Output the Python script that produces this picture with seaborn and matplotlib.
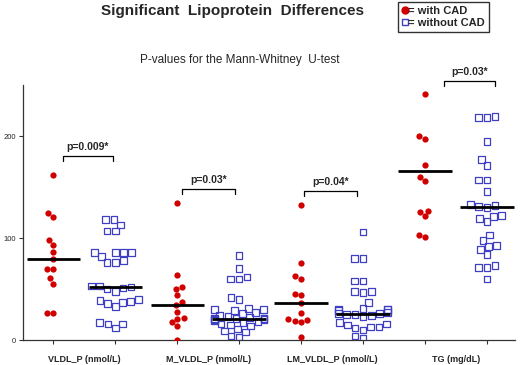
import pandas as pd
import matplotlib
matplotlib.use("Agg")
import matplotlib.pyplot as plt
from matplotlib.lines import Line2D
import seaborn as sns


# values
categories = ["VLDL_P (nmol/L)", "M_VLDL_P (nmol/L)", "LM_VLDL_P (nmol/L)", "TG (mg/dL)"]

vldl_with = [162, 125, 121, 98.5, 93.5, 86.5, 79.5, 70, 70, 60.5, 55, 26.5, 26.5]
vldl_without = [118, 118, 113, 107, 107, 86, 86, 86, 86, 82, 78, 76, 76, 53, 53,
                52, 51, 50, 48, 40, 39, 38, 37, 36, 33, 17, 16, 16, 12]
mvldl_with = [134.5, 63.5, 52.5, 50.5, 44.5, 37, 34, 28, 22, 21, 17.5, 14, 0]
mvldl_without = [83, 70, 62, 60, 60, 42, 40, 31, 30, 30, 29, 27, 26, 24, 23, 22, 21,
                 21, 21, 21, 20, 20, 19, 18, 17, 16, 15, 14, 11, 9, 8, 4, 3]
lmvldl_with = [132.5, 75.5, 62.5, 60, 45, 44, 36, 26.5, 21, 20, 19, 18, 3.5]
lmvldl_without = [106, 80, 80, 58, 58, 48, 48, 47, 37, 31, 30, 30, 30, 29, 27, 26,
                  26, 25, 25, 24, 23, 17, 16, 15, 13, 13, 12, 10, 4, 2]
tg_with = [241, 200.5, 197.5, 171.5, 159.5, 156, 127, 125.5, 121.5, 103.5, 101]
tg_without = [219, 218, 218, 195, 177, 171, 157, 157, 146, 133, 132, 131, 130, 122,
              119, 116, 121, 103, 98, 93, 92, 89, 84, 73, 71, 71, 60]

medians_with = [79.5, 34, 36, 166]
medians_without = [52, 21, 25.5, 130.5]
p_labels = ["p=0.009*", "p=0.03*", "p=0.04*", "p=0.03*"]

RED = "#d00000"
BLUE = "#3f3fc4"


def build_frame():
    """long-form table, one slot per (category, group)"""
    rows = []
    groups = [(vldl_with, vldl_without), (mvldl_with, mvldl_without),
              (lmvldl_with, lmvldl_without), (tg_with, tg_without)]
    for cat, (w, wo) in zip(categories, groups):
        rows += [(cat + " with", "with CAD", v) for v in w]
        rows += [(cat + " without", "without CAD", v) for v in wo]
    return pd.DataFrame(rows, columns=["slot", "group", "value"])


def main():
    df = build_frame()
    slots = []
    for cat in categories:
        slots += [cat + " with", cat + " without"]

    sns.set_style("white")
    plt.rcParams["font.family"] = ["Liberation Sans", "DejaVu Sans"]

    fig = plt.figure(figsize=(5.2, 3.65), dpi=100)
    ax = fig.add_axes([0.044, 0.068, 0.946, 0.699])

    sns.swarmplot(data=df[df.group == "with CAD"], x="slot", y="value", order=slots,
                  color=RED, size=4.5, linewidth=0, ax=ax, warn_thresh=1)
    n_before = len(ax.collections)
    sns.swarmplot(data=df[df.group == "without CAD"], x="slot", y="value", order=slots,
                  color=BLUE, marker="s", size=4.8, ax=ax, warn_thresh=1)
    # hollow squares: seaborn makes one collection per slot
    for coll in ax.collections[n_before:]:
        coll.set_facecolor("none")
        coll.set_edgecolor(BLUE)
        coll.set_linewidth(0.9)

    # median bars
    for i in range(len(categories)):
        for pos, med in ((2 * i, medians_with[i]), (2 * i + 1, medians_without[i])):
            ax.hlines(med, pos - 0.43, pos + 0.43, color="black", lw=2, zorder=5)

    # significance brackets
    bracket_left = [0.15, 2.08, 4.05, 6.3]
    bracket_right = [0.97, 2.93, 4.9, 7.13]
    bracket_top = [180.5, 148, 146, 254]
    for x1, x2, top, lab in zip(bracket_left, bracket_right, bracket_top, p_labels):
        ax.plot([x1, x1, x2, x2], [top - 4.5, top, top, top - 4.5], color="black",
                lw=0.9, clip_on=False)
        ax.text((x1 + x2) / 2, top + 4, lab, ha="center", va="bottom",
                fontsize=7.5, fontweight="bold", clip_on=False)

    ax.set_xlim(-0.49, 7.45)
    ax.set_ylim(0, 250)
    ax.set_xticks(range(8), [""] * 8)
    ax.set_xticks([0.5, 2.5, 4.5, 6.5], categories, minor=True)
    ax.tick_params(axis="x", which="minor", length=0, pad=11, labelsize=6.5)
    for t in ax.get_xticklabels(minor=True):
        t.set_fontweight("bold")
    ax.tick_params(axis="x", which="major", direction="out", length=3, width=0.8,
                   bottom=True, color="#333333")
    ax.set_yticks([0, 100, 200])
    ax.tick_params(axis="y", direction="out", length=3, width=0.8, left=True,
                   labelsize=5.5, pad=2, color="#333333")
    ax.set_xlabel("")
    ax.set_ylabel("")
    sns.despine(ax=ax)
    for s in ("left", "bottom"):
        ax.spines[s].set_color("#333333")
        ax.spines[s].set_linewidth(0.9)

    fig.text(0.448, 0.988, "Significant  Lipoprotein  Differences", ha="center",
             va="top", fontsize=11, fontweight="bold")
    fig.text(0.462, 0.836, "P-values for the Mann-Whitney  U-test", ha="center",
             va="center", fontsize=8.5)

    handles = [Line2D([], [], marker="o", color=RED, ls="none", markersize=5),
               Line2D([], [], marker="s", color=BLUE, mfc="none", ls="none",
                      markersize=5, mew=1)]
    leg = fig.legend(handles, ["= with CAD", "= without CAD"], loc="upper left",
                     bbox_to_anchor=(0.765, 0.994), frameon=True, fancybox=False,
                     handlelength=0.6, handletextpad=0.0, borderpad=0.35,
                     labelspacing=0.2, borderaxespad=0,
                     prop={"weight": "bold", "size": 8})
    leg.get_frame().set_edgecolor("black")
    leg.get_frame().set_linewidth(1.0)

    fig.savefig("out.png", dpi=100)


if __name__ == "__main__":
    main()
